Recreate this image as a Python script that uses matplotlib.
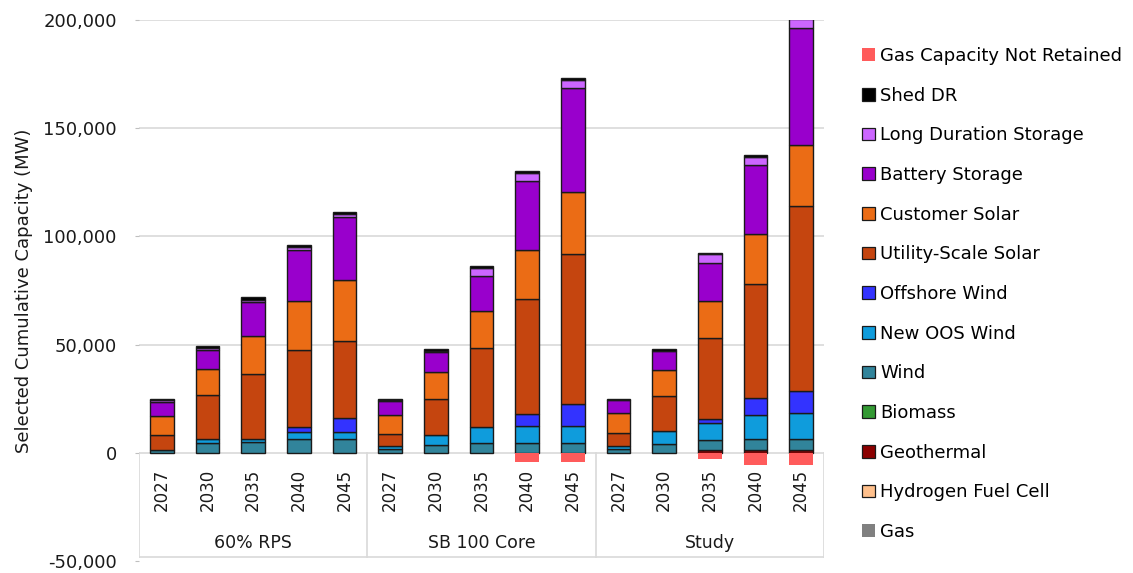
import numpy as np
import matplotlib.pyplot as plt
from matplotlib.patches import Patch

# %%
# chart data (MW), one value per scenario/year bar
scenarios = ['60% RPS', 'SB 100 Core', 'Study']
years = ['2027', '2030', '2035', '2040', '2045']

# stacked from the bottom up
gas = [0] * 15
hydrogen = [0] * 15
geothermal = [0, 0, 0, 0, 0,
              0, 0, 0, 0, 0,
              0, 0, 1100, 1100, 1100]
biomass = [0] * 15
wind = [1500, 4700, 4800, 6600, 6600,
        1800, 3400, 4500, 4500, 4500,
        1600, 4200, 4900, 5300, 5300]
new_oos_wind = [0, 1800, 1800, 3200, 2800,
                1400, 4900, 7200, 8000, 8000,
                1600, 5700, 8000, 11200, 12000]
offshore_wind = [0, 0, 0, 2000, 6700,
                 0, 0, 0, 5400, 10000,
                 0, 0, 1600, 7700, 10000]
utility_solar = [6800, 20300, 29900, 35700, 35400,
                 5400, 16500, 36700, 53100, 69400,
                 5900, 16500, 37400, 52800, 85800]
customer_solar = [8900, 12100, 17400, 22600, 28500,
                  8900, 12700, 17200, 22800, 28500,
                  9200, 12000, 17200, 23000, 28200]
battery = [6500, 8600, 15900, 23600, 29000,
           6500, 9200, 15900, 32000, 48000,
           5900, 8500, 17400, 32000, 54100]
long_duration = [500, 1000, 1000, 1500, 1500,
                 300, 300, 3900, 3700, 3800,
                 0, 0, 4200, 3800, 3800]
shed_dr = [500, 800, 1000, 800, 800,
           600, 800, 1100, 800, 800,
           700, 1200, 500, 800, 0]
gas_not_retained = [0, 0, 0, 0, 0,
                    0, 0, 0, -4300, -4300,
                    0, 0, -2800, -5500, -5800]

# name, values, colour, edge drawn
stack = [
    ('Gas', gas, '#808080', False),
    ('Hydrogen Fuel Cell', hydrogen, '#FFC08C', True),
    ('Geothermal', geothermal, '#8B0000', True),
    ('Biomass', biomass, '#339933', True),
    ('Wind', wind, '#31849B', True),
    ('New OOS Wind', new_oos_wind, '#0F9CDC', True),
    ('Offshore Wind', offshore_wind, '#3333FF', True),
    ('Utility-Scale Solar', utility_solar, '#C5450F', True),
    ('Customer Solar', customer_solar, '#EB6C15', True),
    ('Battery Storage', battery, '#9900CC', True),
    ('Long Duration Storage', long_duration, '#CC66FF', True),
    ('Shed DR', shed_dr, '#000000', True),
]

# %%
fig = plt.figure(figsize=(11.33, 5.73), dpi=100)
W, H = 1133, 573
ax_left, ax_right, ax_top, ax_bottom = 139, 824, 20, 561
ax = fig.add_axes([ax_left / W, 1 - ax_bottom / H,
                   (ax_right - ax_left) / W, (ax_bottom - ax_top) / H])

x = np.arange(len(scenarios) * len(years))
bar_w = 0.52
edge = '#1a1a1a'

bottom = np.zeros(len(x))
for name, vals, color, has_edge in stack:
    vals = np.array(vals, dtype=float)
    lw = np.where(vals > 0, 1.0 if has_edge else 0, 0)
    ax.bar(x, vals, bar_w, bottom=bottom, color=color, edgecolor=edge,
           linewidth=lw, zorder=3)
    bottom += vals

gnr = np.array(gas_not_retained, dtype=float)
ax.bar(x, gnr, bar_w, color='#FF5B5B', linewidth=0, zorder=3)

ax.set_xlim(-0.5, len(x) - 0.5)
ax.set_ylim(-50000, 200000)

# gridlines
for yv in [50000, 100000, 150000, 200000]:
    ax.axhline(yv, color='#D9D9D9', linewidth=1.2, zorder=1)

# category box below zero
box_bottom = -48000
line_c = '#D9D9D9'
ax.plot([-0.5, len(x) - 0.5], [0, 0], color=line_c, linewidth=1.2, zorder=2)
ax.plot([-0.5, len(x) - 0.5], [box_bottom, box_bottom], color=line_c, linewidth=1.2, zorder=2)
for xv in [-0.5, 4.5, 9.5, 14.5]:
    ax.plot([xv, xv], [box_bottom, 0], color=line_c, linewidth=1.2, zorder=2)

for i in x:
    ax.text(i, -17000, years[i % len(years)], rotation=90, ha='center', va='center',
            fontsize=12, color='#1a1a1a')
for k, s in enumerate(scenarios):
    ax.text(k * len(years) + 2, -41500, s, ha='center', va='center',
            fontsize=12.5, color='#1a1a1a')

for sp in ax.spines.values():
    sp.set_visible(False)
ax.set_xticks([])
ax.set_yticks([-50000, 0, 50000, 100000, 150000, 200000])
ax.set_yticklabels(['-50,000', '0', '50,000', '100,000', '150,000', '200,000'])
ax.tick_params(axis='y', length=3, color='#BFBFBF', labelsize=13, labelcolor='#1a1a1a', pad=13)
ax.set_ylabel('Selected Cumulative Capacity (MW)', fontsize=13, color='#1a1a1a', labelpad=7)

# legend, top entry first
handles = [Patch(facecolor='#FF5B5B', edgecolor='none', label='Gas Capacity Not Retained')]
for name, vals, color, has_edge in reversed(stack):
    handles.append(Patch(facecolor=color, edgecolor=edge if has_edge else 'none',
                         linewidth=0.9, label=name))
fig.legend(handles=handles, loc='upper left', bbox_to_anchor=(862 / W, 1 - 47 / H),
           frameon=False, fontsize=13, handlelength=0.7, handleheight=0.7,
           handletextpad=0.3, labelspacing=1.2, borderpad=0, borderaxespad=0)

fig.savefig('out.png', dpi=100)
